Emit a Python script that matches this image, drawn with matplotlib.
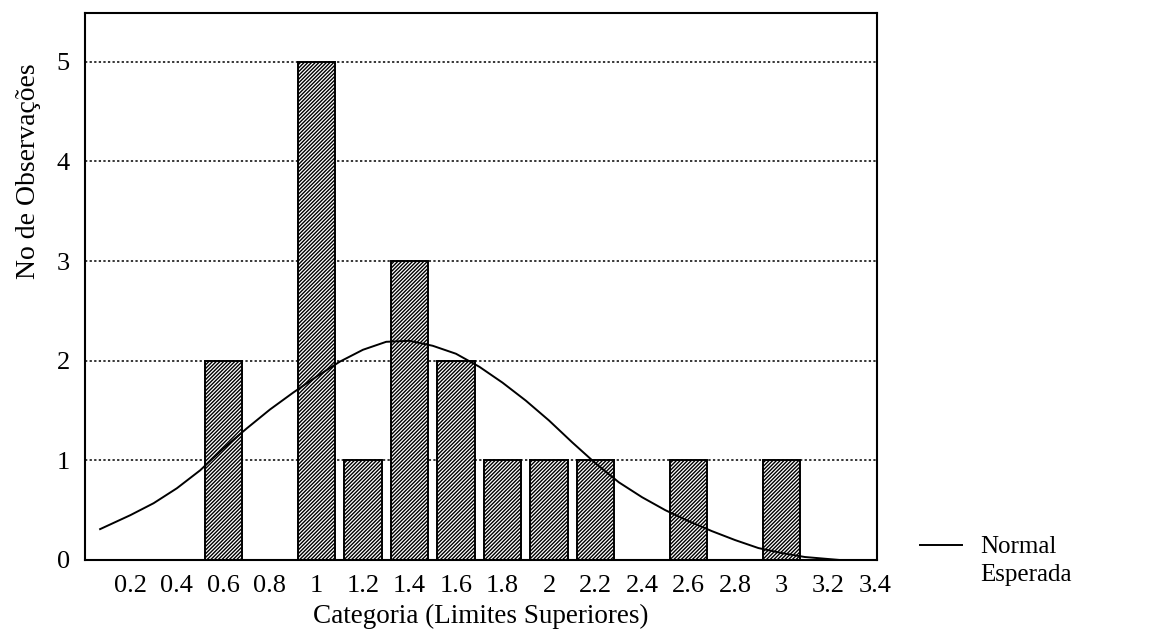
import matplotlib.pyplot as plt
from matplotlib.lines import Line2D

plt.rcParams['font.family'] = ['Liberation Serif', 'DejaVu Serif']
plt.rcParams['hatch.linewidth'] = 1.0

# ---- Data ----
categorias = [0.2, 0.4, 0.6, 0.8, 1.0, 1.2, 1.4, 1.6, 1.8,
              2.0, 2.2, 2.4, 2.6, 2.8, 3.0, 3.2, 3.4]
rotulos = ['0.2', '0.4', '0.6', '0.8', '1', '1.2', '1.4', '1.6', '1.8',
           '2', '2.2', '2.4', '2.6', '2.8', '3', '3.2', '3.4']
observacoes = [0, 0, 2, 0, 5, 1, 3, 2, 1, 1, 1, 0, 1, 0, 1, 0, 0]

# expected normal curve
normal_x = [0.07, 0.2, 0.3, 0.4, 0.5, 0.6, 0.7, 0.8, 0.9, 1.0, 1.1, 1.2, 1.3,
            1.4, 1.5, 1.6, 1.7, 1.8, 1.9, 2.0, 2.1, 2.2, 2.3, 2.4, 2.5, 2.6,
            2.7, 2.8, 2.9, 3.0, 3.1, 3.2, 3.25]
normal_y = [0.31, 0.45, 0.57, 0.72, 0.90, 1.12, 1.32, 1.51, 1.68, 1.84, 1.99,
            2.11, 2.19, 2.20, 2.15, 2.07, 1.94, 1.78, 1.60, 1.40, 1.18, 0.97,
            0.78, 0.63, 0.50, 0.39, 0.29, 0.20, 0.12, 0.07, 0.03, 0.01, 0.0]

# ---- Plot ----
fig = plt.figure(figsize=(11.71, 6.42), dpi=100)
ax = fig.add_axes([85 / 1171, 1 - 560 / 642, 792 / 1171, 547 / 642])

ax.bar(categorias, observacoes, width=0.16, color='white', edgecolor='black',
       linewidth=1.4, hatch='/////////', zorder=2)
ax.plot(normal_x, normal_y, color='black', linewidth=1.4, zorder=3)

ax.set_xlim(0.005, 3.41)
ax.set_ylim(0, 5.49)
ax.set_xticks(categorias)
ax.set_xticklabels(rotulos)
ax.set_yticks([0, 1, 2, 3, 4, 5])
ax.tick_params(axis='both', labelsize=19, length=0, pad=11)

for v in [1, 2, 3, 4, 5]:
    ax.axhline(v, color='black', linestyle=(0, (1.5, 1.5)), linewidth=1.1, zorder=0)

for s in ax.spines.values():
    s.set_linewidth(1.5)

ax.set_xlabel('Categoria (Limites Superiores)', fontsize=19.5, labelpad=5)
ax.set_ylabel('No de Observações', fontsize=20)
ax.yaxis.set_label_coords(-0.055, 0.71)

# legend, outside at the right
fig.add_artist(Line2D([920 / 1171, 962 / 1171], [1 - 545 / 642] * 2,
                      color='black', linewidth=1.4))
fig.text(980 / 1171, 1 - 561 / 642, 'Normal\nEsperada', fontsize=18,
         ha='left', va='center', linespacing=1.4)

plt.savefig('out.png', dpi=100)
plt.close()
